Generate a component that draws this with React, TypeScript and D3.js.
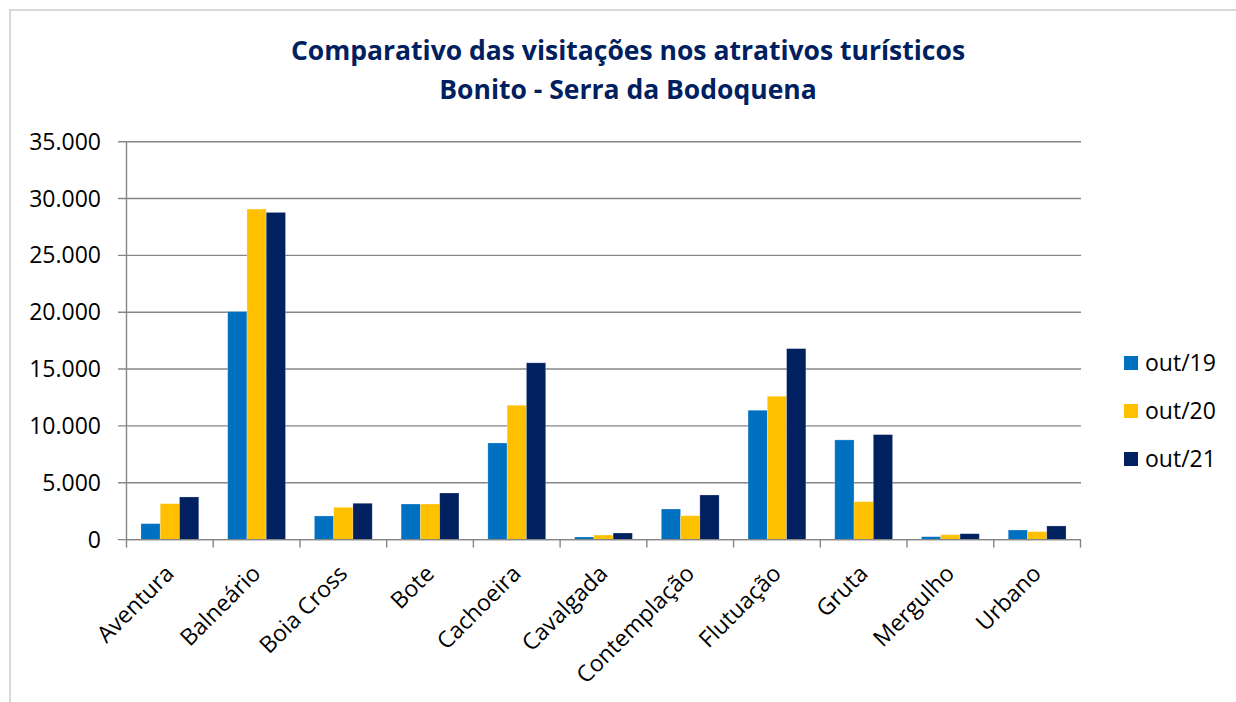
import React from "react";
import * as d3 from "d3";

const categories = ["Aventura", "Balneário", "Boia Cross", "Bote", "Cachoeira", "Cavalgada", "Contemplação", "Flutuação", "Gruta", "Mergulho", "Urbano"];
const seriesNames = ["out/19", "out/20", "out/21"];
const out19 = [1400, 20060, 2080, 3130, 8500, 230, 2690, 11380, 8770, 255, 845];
const out20 = [3160, 29075, 2840, 3130, 11820, 400, 2100, 12610, 3340, 430, 700];
const out21 = [3750, 28780, 3195, 4100, 15550, 580, 3925, 16800, 9235, 520, 1200];
const yTicks = [0, 5000, 10000, 15000, 20000, 25000, 30000, 35000];
const titleLines = ["Comparativo das visitações nos atrativos turísticos", "Bonito - Serra da Bodoquena"];

const colors = ["#0070C0", "#FFC000", "#002060"];
const values = [out19, out20, out21];

export default function App() {
  const W = 1236, H = 702;
  const left = 126.5, right = 1080.5, top = 141.7, bottom = 539.6;
  const x = d3.scaleBand<string>().domain(categories).range([left, right]).paddingInner(0).paddingOuter(0);
  const y = d3.scaleLinear().domain([0, 35000]).range([bottom, top]);
  const bw = x.bandwidth() / 4.5;
  const fmt = (v: number) => (v === 0 ? "0" : d3.format(",")(v).replace(/,/g, "."));
  const font = "'Open Sans', sans-serif";
  const axisColor = "#868686";
  const boundaries = [...categories.map((c) => x(c) as number), right];

  return (
    <svg width={W} height={H} style={{ position: "absolute", left: 0, top: 0 }}>
      <rect x={0} y={0} width={W} height={H} fill="#fff" />
      <rect x={10} y={10} width={W + 20} height={H + 20} fill="#fff" stroke="#d9d9d9" strokeWidth={2} />
      {titleLines.map((t, i) => (
        <text key={t} x={628} y={60 + i * 39} textAnchor="middle" fontFamily={font} fontWeight={700} fontSize={26.5} fill="#002060">
          {t}
        </text>
      ))}
      {yTicks.map((t) => (
        <g key={t}>
          <line x1={118} x2={1081} y1={y(t)} y2={y(t)} stroke={axisColor} strokeWidth={1.4} />
          <text x={101} y={y(t) + 8} textAnchor="end" fontFamily={font} fontSize={23} fill="#000">
            {fmt(t)}
          </text>
        </g>
      ))}
      <line x1={left} x2={left} y1={top} y2={bottom} stroke={axisColor} strokeWidth={1.4} />
      {boundaries.map((b, i) => (
        <line key={i} x1={b} x2={b} y1={bottom} y2={bottom + 8} stroke={axisColor} strokeWidth={1.4} />
      ))}
      {categories.map((c, ci) => (
        <g key={c}>
          {values.map((vals, si) => {
            const x0 = (x(c) as number) + 0.75 * bw + si * bw;
            return (
              <rect key={si} x={x0} y={y(vals[ci])} width={bw} height={bottom - y(vals[ci])} fill={colors[si]} stroke="#ffffff" strokeOpacity={0.3} strokeWidth={0.8} />
            );
          })}
        </g>
      ))}
      <line x1={left} x2={1081} y1={bottom} y2={bottom} stroke={axisColor} strokeWidth={1.4} />
      {categories.map((c) => {
        const cx = (x(c) as number) + x.bandwidth() / 2;
        return (
          <text key={c} transform={`translate(${cx + 5.5},${575}) rotate(-45)`} textAnchor="end" fontFamily={font} fontSize={23} fill="#000">
            {c}
          </text>
        );
      })}
      {seriesNames.map((s, i) => (
        <g key={s}>
          <rect x={1124} y={356 + i * 48} width={14} height={14} fill={colors[i]} />
          <text x={1145} y={371 + i * 48} fontFamily={font} fontSize={23} fill="#000">
            {s}
          </text>
        </g>
      ))}
    </svg>
  );
}
